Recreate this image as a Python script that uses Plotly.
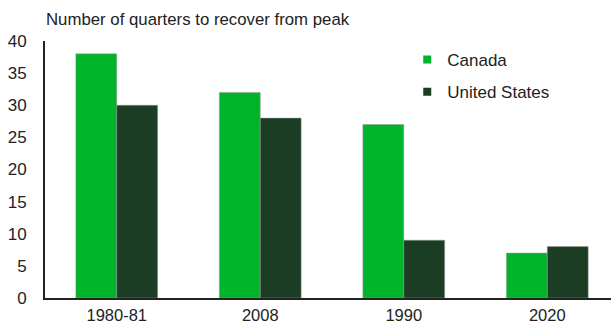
import plotly.graph_objects as go

categories = ["1980-81", "2008", "1990", "2020"]
canada = [38, 32, 27, 7]
united_states = [30, 28, 9, 8]

font = "Liberation Sans, Arial, sans-serif"
c_ca = "#00B42A"
c_us = "#1A3D23"

fig = go.Figure()
fig.add_trace(go.Bar(x=categories, y=canada, name="Canada", showlegend=False,
                     marker=dict(color=c_ca, line=dict(color="#9a9a9a", width=0.5))))
fig.add_trace(go.Bar(x=categories, y=united_states, name="United States", showlegend=False,
                     marker=dict(color=c_us, line=dict(color="#9a9a9a", width=0.5))))
# legend entries with small square symbols
fig.add_trace(go.Scatter(x=[None], y=[None], mode="markers", name="Canada", legendgroup="a",
                         marker=dict(symbol="square", size=8, color=c_ca)))
fig.add_trace(go.Scatter(x=[None], y=[None], mode="markers", name="United States", legendgroup="b",
                         marker=dict(symbol="square", size=8, color=c_us)))

fig.update_layout(
    width=611, height=324,
    margin=dict(l=45, r=0, t=41, b=26),
    paper_bgcolor="white", plot_bgcolor="white",
    barmode="group", bargap=0.43, bargroupgap=0,
    font=dict(family=font, size=17, color="#222222"),
    showlegend=True,
    legend=dict(x=0.64, y=0.996, xanchor="left", yanchor="top",
                font=dict(size=17, color="#222222"), itemwidth=30,
                tracegroupgap=7, bgcolor="rgba(0,0,0,0)"),
    annotations=[dict(text="Number of quarters to recover from peak", xref="paper", yref="paper",
                      x=-0.002, y=1.0, yshift=22, xanchor="left", yanchor="middle",
                      showarrow=False, font=dict(size=16.8, color="#222222"))],
)
fig.update_xaxes(range=[-0.5, 3.444], showline=True, linecolor="#222222", linewidth=2, ticks="",
                 showgrid=False, tickfont=dict(size=16.5), ticklabelstandoff=1, automargin=False)
fig.update_yaxes(range=[0, 40], dtick=5, showline=True, linecolor="#222222", linewidth=2,
                 ticks="", showgrid=False, zeroline=False, tickfont=dict(size=17),
                 ticklabelstandoff=13, automargin=False)

fig.write_html("out.html")
